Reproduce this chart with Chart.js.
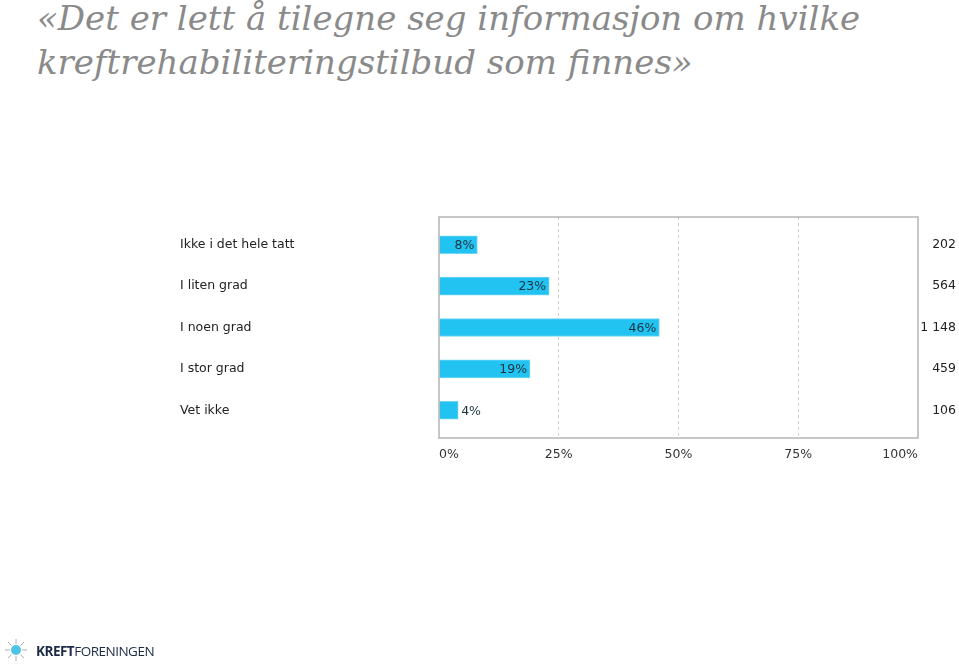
<!DOCTYPE html>
<html>
<head>
<meta charset="utf-8">
<script src="https://cdn.jsdelivr.net/npm/chart.js@4"></script>
<style>
  html, body { margin: 0; padding: 0; background: #fff; width: 959px; height: 668px; overflow: hidden; }
  #title {
    position: absolute; left: 37px; top: -4px;
    font-family: "DejaVu Serif", serif; font-style: italic; font-size: 34px;
    line-height: 44px; color: #8a8a8a; white-space: nowrap;
  }
  #chart { position: absolute; left: 0; top: 0; }
  #logo { position: absolute; left: 3px; top: 637px; height: 26px; }
  #logo span.txt {
    position: absolute; left: 33px; top: 5px;
    font-family: "Open Sans", sans-serif; font-size: 13.5px; color: #1c2b45; letter-spacing: -0.5px;
  }
</style>
</head>
<body>
<div id="title">«Det er lett å tilegne seg informasjon om hvilke<br>kreftrehabiliteringstilbud som finnes»</div>
<canvas id="chart" width="959" height="668"></canvas>
<div id="logo">
  <svg width="26" height="26" viewBox="0 0 26 26">
    <g stroke="#9fb4c4" stroke-width="1" fill="none">
      <path d="M13 2 L13 7 M13 19 L13 24 M2 13 L7 13 M19 13 L24 13 M5 5 L8.5 8.5 M17.5 17.5 L21 21 M21 5 L17.5 8.5 M8.5 17.5 L5 21"/>
    </g>
    <circle cx="13" cy="13" r="5" fill="#4fc3e6"/>
  </svg>
  <span class="txt"><b>KREFT</b>FORENINGEN</span>
</div>
<script>
var categories = ['Ikke i det hele tatt', 'I liten grad', 'I noen grad', 'I stor grad', 'Vet ikke']
var percentages = [8, 23, 46, 19, 4]
var counts = ['202', '564', '1 148', '459', '106']
var xTicks = [0, 25, 50, 75, 100]

var barColor = '#22c2f1'
var fontFamily = '"DejaVu Sans", Verdana, sans-serif'

// frame around the plot area
var framePlugin = {
  id: 'frame',
  afterDraw: function(chart) {
    var a = chart.chartArea
    var ctx = chart.ctx
    ctx.save()
    ctx.strokeStyle = '#b4b4b4'
    ctx.lineWidth = 1.5
    ctx.strokeRect(a.left, a.top, a.right - a.left, a.bottom - a.top)
    ctx.restore()
  }
}

// percent labels at the bar ends
var valueLabels = {
  id: 'valueLabels',
  afterDatasetsDraw: function(chart) {
    var ctx = chart.ctx
    var meta = chart.getDatasetMeta(0)
    ctx.save()
    ctx.font = '12.5px ' + fontFamily
    ctx.fillStyle = '#1b3440'
    ctx.textBaseline = 'middle'
    meta.data.forEach(function(bar, i) {
      var text = percentages[i] + '%'
      var w = ctx.measureText(text).width
      if (bar.x - bar.base > w + 6) {
        ctx.textAlign = 'right'
        ctx.fillText(text, bar.x - 3, bar.y + 1)
      } else {
        ctx.textAlign = 'left'
        ctx.fillText(text, bar.x + 3, bar.y + 1)
      }
    })
    ctx.restore()
  }
}

var sideAxis = function(position, names, width) {
  return {
    type: 'linear', reverse: true, offset: false, min: -0.67, max: 4.67, position: position,
    afterBuildTicks: function(scale) { scale.ticks = names.map(function(c, i) { return { value: i } }) },
    afterFit: function(scale) { scale.width = width },
    grid: { display: false, drawTicks: false },
    border: { display: false },
    ticks: {
      crossAlign: 'far', color: '#222', padding: 0,
      font: { family: fontFamily, size: 12.5 },
      callback: function(v) { return names[v] }
    }
  }
}

new Chart(document.getElementById('chart'), {
  type: 'bar',
  data: {
    datasets: [{
      data: percentages.map(function(v, i) { return { x: v, y: i } }),
      backgroundColor: barColor,
      borderColor: '#6fd6f6',
      borderWidth: 1,
      borderSkipped: 'start',
      barThickness: 18,
      yAxisID: 'y'
    }]
  },
  options: {
    indexAxis: 'y',
    responsive: false,
    animation: false,
    layout: { padding: { left: 180, top: 217, right: 3, bottom: 200 } },
    plugins: { legend: { display: false }, tooltip: { enabled: false } },
    scales: {
      x: {
        type: 'linear', min: 0, max: 100,
        afterBuildTicks: function(scale) { scale.ticks = xTicks.map(function(v) { return { value: v } }) },
        afterFit: function(scale) { scale.height = 30 },
        grid: {
          drawTicks: false,
          color: function(c) { return (c.tick && (c.tick.value === 0 || c.tick.value === 100)) ? 'rgba(0,0,0,0)' : '#cfcfcf' },
          lineWidth: 1
        },
        border: { display: false, dash: [3, 3] },
        ticks: {
          align: 'inner', padding: 9, color: '#333',
          font: { family: fontFamily, size: 12.5 },
          callback: function(v) { return v + '%' }
        }
      },
      y: sideAxis('left', categories, 259),
      y2: sideAxis('right', counts, 38)
    }
  },
  plugins: [framePlugin, valueLabels]
})
</script>
</body>
</html>
